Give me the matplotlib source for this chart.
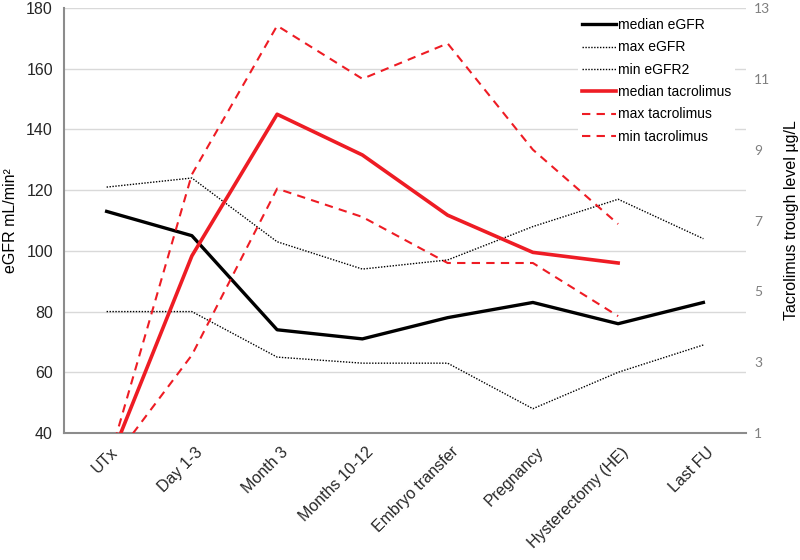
import numpy as np
import matplotlib
matplotlib.use("Agg")
import matplotlib.pyplot as plt
import matplotlib.transforms as mtransforms

plt.rcParams['font.family'] = ['Liberation Sans', 'DejaVu Sans']

# categorias del eje x
etapas = ['UTx', 'Day 1-3', 'Month 3', 'Months 10-12', 'Embryo transfer',
          'Pregnancy', 'Hysterectomy (HE)', 'Last FU']

# eGFR (eje izquierdo)
median_egfr = [113, 105, 74, 71, 78, 83, 76, 83]
max_egfr = [121, 124, 103, 94, 97, 108, 117, 104]
min_egfr = [80, 80, 65, 63, 63, 48, 60, 69]

# tacrolimus (eje derecho), sin dato en Last FU
median_tac = [0, 6.0, 10.0, 8.85, 7.15, 6.1, 5.8, np.nan]
max_tac = [0, 8.3, 12.5, 11.0, 12.0, 9.0, 6.9, np.nan]
min_tac = [0, 3.2, 7.9, 7.1, 5.8, 5.8, 4.3, np.nan]

rojo = '#ee1c24'
x = np.arange(len(etapas))

fig = plt.figure(figsize=(8, 5.6), dpi=100)
ax1 = fig.add_axes([0.08, 0.2268, 0.8525, 0.7589])
ax2 = ax1.twinx()

l1, = ax1.plot(x, median_egfr, color='black', lw=2.4, label='median eGFR')
l2, = ax1.plot(x, max_egfr, color='black', lw=1.0, ls=(0, (1, 1.1)), label='max eGFR')
l3, = ax1.plot(x, min_egfr, color='black', lw=1.0, ls=(0, (1, 1.1)), label='min eGFR2')

l4, = ax2.plot(x, median_tac, color=rojo, lw=2.6, label='median tacrolimus')
l5, = ax2.plot(x, max_tac, color=rojo, lw=1.5, ls=(0, (4, 3)), label='max tacrolimus')
l6, = ax2.plot(x, min_tac, color=rojo, lw=1.5, ls=(0, (4, 3)), label='min tacrolimus')

ax1.set_xlim(-0.5, 7.5)
ax1.set_ylim(40, 180)
ax1.set_yticks(range(40, 181, 20))
ax2.set_ylim(1, 13)
ax2.set_yticks(range(1, 14, 2))

ax1.grid(axis='y', color='#d9d9d9', lw=1)
ax1.set_axisbelow(True)

for a in (ax1, ax2):
    for s in a.spines.values():
        s.set_visible(False)
ax1.spines['left'].set_visible(True)
ax1.spines['bottom'].set_visible(True)
ax1.spines['left'].set_color('#8c8c8c')
ax1.spines['bottom'].set_color('#8c8c8c')
ax1.spines['left'].set_linewidth(1.5)
ax1.spines['bottom'].set_linewidth(1.5)

ax1.tick_params(axis='y', length=0, pad=8, labelsize=11.5, labelcolor='#262626')
ax1.tick_params(axis='x', length=0, pad=6, labelsize=11.5, labelcolor='#262626')
ax2.tick_params(axis='y', length=0, pad=6, labelsize=10, labelcolor='#7f7f7f')
for t in ax2.get_yticklabels():
    t.set_fontfamily('Lato')

ax1.set_xticks(x)
ax1.set_xticklabels(etapas, rotation=45, ha='right', va='center', rotation_mode='anchor')
desplazar = mtransforms.ScaledTranslation(6 / 72, -6 / 72, fig.dpi_scale_trans)
for t in ax1.get_xticklabels():
    t.set_transform(t.get_transform() + desplazar)

ax1.set_ylabel('eGFR mL/min²', fontsize=11.5, labelpad=6)
ax2.set_ylabel('Tacrolimus trough level µg/L', fontsize=11.5, labelpad=10)

ley = ax2.legend(handles=[l1, l2, l3, l4, l5, l6], loc='upper right',
                 bbox_to_anchor=(735 / 800, 1 - 14 / 560), bbox_transform=fig.transFigure,
                 fontsize=10, frameon=True, framealpha=1, edgecolor='none', fancybox=False,
                 handlelength=2.4, handletextpad=0.15, labelspacing=0.6,
                 borderpad=0.3, borderaxespad=0)

fig.savefig('out.png', dpi=100)
